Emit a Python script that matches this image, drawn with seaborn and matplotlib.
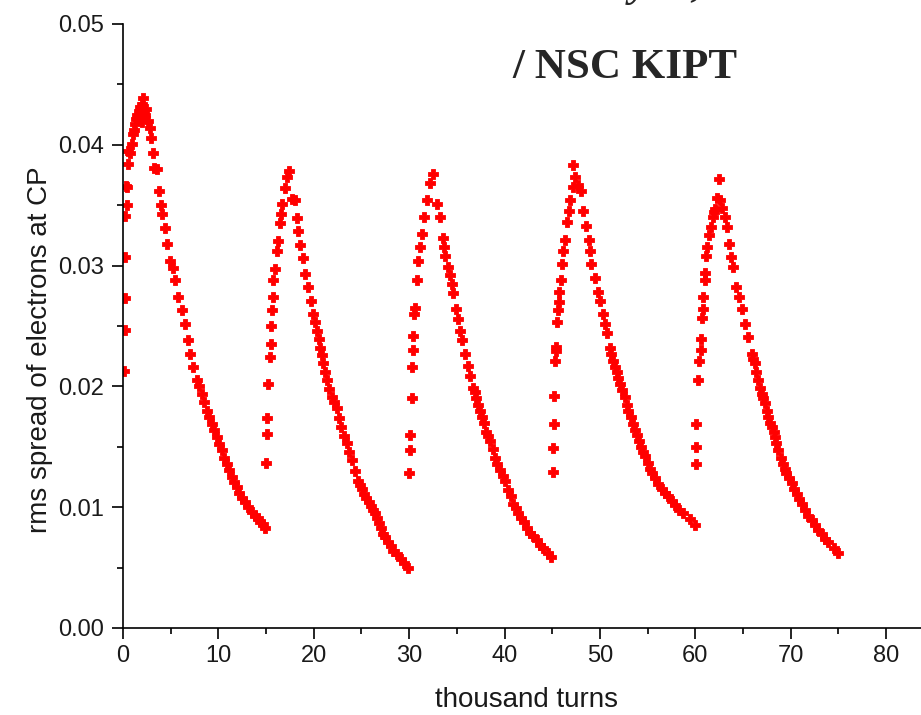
import matplotlib.pyplot as plt
import matplotlib.ticker as mticker
import seaborn as sns
import pandas as pd

cycle1_x = [0.1, 0.18, 0.18, 0.24, 0.24, 0.39, 0.3, 0.45, 0.56, 0.55, 0.73, 0.91,
            1.08, 1.2, 1.26, 1.4, 1.5, 1.7, 1.78, 2.0, 2.13, 2.0, 2.2, 2.3, 2.4,
            2.65, 2.83, 2.9, 3.11, 3.25, 3.53, 3.8, 3.95, 4.06, 4.4, 4.65, 4.93,
            5.2, 5.45, 5.8, 6.15, 6.5, 6.84, 7.02, 7.36, 7.78, 8.0, 8.25, 8.5, 8.77,
            9.05, 9.3, 9.55, 9.82, 10.1, 10.35, 10.6, 10.87, 11.1, 11.4, 11.65,
            11.92, 12.2, 12.44, 12.8, 13.13, 13.5, 13.84, 14.1, 14.4, 14.65, 14.88]
cycle1_y = [0.0213, 0.0247, 0.0273, 0.0307, 0.0341, 0.0350, 0.0366, 0.0365, 0.0384,
            0.0395, 0.0393, 0.0401, 0.0409, 0.0412, 0.0417, 0.0421, 0.0425, 0.0428,
            0.0431, 0.0434, 0.0439, 0.0419, 0.0427, 0.0425, 0.0430, 0.0420, 0.0414,
            0.0406, 0.0393, 0.0381, 0.0380, 0.0362, 0.0350, 0.0343, 0.0331, 0.0318,
            0.0304, 0.0298, 0.0288, 0.0274, 0.0263, 0.0252, 0.0238, 0.0227, 0.0216,
            0.0205, 0.0200, 0.0194, 0.0187, 0.0180, 0.0175, 0.0169, 0.0164, 0.0158,
            0.0152, 0.0147, 0.0141, 0.0136, 0.0131, 0.0125, 0.0121, 0.0117, 0.0112,
            0.0108, 0.0104, 0.0100, 0.0096, 0.0093, 0.0091, 0.0088, 0.0086, 0.0083]

cycle2_x = [15.0, 15.05, 15.05, 15.2, 15.4, 15.5, 15.5, 15.6, 15.7, 15.75, 15.9,
            16.1, 16.25, 16.45, 16.6, 16.7, 17.0, 17.15, 17.4, 17.7, 18.0, 18.2,
            18.35, 18.55, 18.85, 19.1, 19.4, 19.7, 19.9, 20.1, 20.3, 20.5, 20.65,
            20.85, 21.0, 21.2, 21.35, 21.6, 21.9, 22.15, 22.4, 22.65, 22.9, 23.2,
            23.45, 23.7, 24.0, 24.3, 24.6, 24.8, 25.05, 25.3, 25.5, 25.75, 25.95,
            26.2, 26.4, 26.6, 26.85, 27.05, 27.25, 27.5, 27.8, 28.05, 28.3, 28.7,
            29.1, 29.5, 29.9]
cycle2_y = [0.0137, 0.0161, 0.0174, 0.0202, 0.0224, 0.0235, 0.0250, 0.0263, 0.0274,
            0.0288, 0.0297, 0.0312, 0.0320, 0.0335, 0.0343, 0.0351, 0.0364, 0.0373,
            0.0378, 0.0355, 0.0354, 0.0339, 0.0329, 0.0317, 0.0306, 0.0293, 0.0282,
            0.0271, 0.0260, 0.0253, 0.0246, 0.0239, 0.0232, 0.0226, 0.0219, 0.0212,
            0.0205, 0.0198, 0.0191, 0.0187, 0.0182, 0.0174, 0.0166, 0.0159, 0.0153,
            0.0146, 0.0139, 0.0130, 0.0122, 0.0118, 0.0115, 0.0111, 0.0108, 0.0104,
            0.0101, 0.0098, 0.0095, 0.0091, 0.0087, 0.0083, 0.0078, 0.0075, 0.0071,
            0.0068, 0.0064, 0.0061, 0.0057, 0.0054, 0.0050]

cycle3_x = [30.0, 30.1, 30.1, 30.25, 30.3, 30.4, 30.4, 30.5, 30.6, 30.8, 30.95,
            31.1, 31.3, 31.5, 31.85, 32.2, 32.45, 32.9, 33.2, 33.5, 33.6, 33.75,
            34.1, 34.3, 34.45, 34.6, 34.95, 35.15, 35.3, 35.5, 35.85, 36.2, 36.4,
            36.7, 36.9, 37.05, 37.2, 37.4, 37.6, 37.8, 38.1, 38.3, 38.5, 38.75,
            39.0, 39.25, 39.5, 39.8, 40.05, 40.4, 40.65, 40.9, 41.2, 41.45, 41.7,
            42.0, 42.3, 42.65, 43.0, 43.35, 43.7, 44.05, 44.5, 44.9]
cycle3_y = [0.0128, 0.0147, 0.0160, 0.0190, 0.0216, 0.0230, 0.0242, 0.0260, 0.0265,
            0.0288, 0.0304, 0.0315, 0.0326, 0.0340, 0.0354, 0.0368, 0.0376, 0.0351,
            0.0340, 0.0323, 0.0315, 0.0308, 0.0299, 0.0292, 0.0285, 0.0277, 0.0264,
            0.0256, 0.0246, 0.0238, 0.0227, 0.0217, 0.0209, 0.0199, 0.0195, 0.0190,
            0.0185, 0.0180, 0.0175, 0.0170, 0.0162, 0.0159, 0.0155, 0.0148, 0.0141,
            0.0136, 0.0131, 0.0126, 0.0122, 0.0114, 0.0109, 0.0103, 0.0099, 0.0095,
            0.0091, 0.0088, 0.0083, 0.0079, 0.0076, 0.0073, 0.0069, 0.0066, 0.0062,
            0.0059]

cycle4_x = [45.1, 45.1, 45.15, 45.15, 45.3, 45.4, 45.4, 45.5, 45.6, 45.75, 45.75,
            45.9, 46.0, 46.15, 46.35, 46.5, 46.7, 46.9, 47.2, 47.4, 47.2, 47.7,
            48.05, 48.25, 48.5, 48.8, 48.95, 49.1, 49.45, 49.8, 50.05, 50.3, 50.5,
            50.75, 51.05, 51.2, 51.4, 51.6, 51.75, 51.9, 52.1, 52.35, 52.6, 52.8,
            52.95, 53.2, 53.5, 53.7, 53.85, 54.1, 54.35, 54.5, 54.7, 55.0, 55.25,
            55.5, 55.75, 56.1, 56.45, 56.8, 57.15, 57.5, 57.85, 58.3, 58.75, 59.4,
            60.0]
cycle4_y = [0.0129, 0.0149, 0.0169, 0.0192, 0.0221, 0.0229, 0.0233, 0.0253, 0.0263,
            0.0270, 0.0278, 0.0288, 0.0301, 0.0312, 0.0321, 0.0336, 0.0345, 0.0354,
            0.0365, 0.0373, 0.0383, 0.0367, 0.0362, 0.0345, 0.0333, 0.0321, 0.0312,
            0.0301, 0.0290, 0.0278, 0.0271, 0.0260, 0.0252, 0.0244, 0.0232, 0.0227,
            0.0221, 0.0216, 0.0212, 0.0207, 0.0202, 0.0197, 0.0191, 0.0185, 0.0180,
            0.0175, 0.0169, 0.0164, 0.0160, 0.0155, 0.0150, 0.0146, 0.0142, 0.0137,
            0.0132, 0.0128, 0.0124, 0.0119, 0.0115, 0.0112, 0.0109, 0.0105, 0.0102,
            0.0098, 0.0095, 0.0090, 0.0085]

cycle5_x = [60.05, 60.1, 60.1, 60.3, 60.4, 60.55, 60.55, 60.65, 60.75, 60.8, 61.0,
            61.0, 61.1, 61.25, 61.45, 61.6, 61.8, 61.9, 62.05, 62.3, 62.5, 62.6,
            62.75, 63.1, 63.3, 63.55, 63.7, 63.9, 64.3, 64.6, 64.85, 65.2, 65.55,
            65.9, 66.05, 66.25, 66.4, 66.6, 66.8, 66.95, 67.1, 67.3, 67.5, 67.65,
            67.8, 68.0, 68.2, 68.35, 68.5, 68.7, 68.95, 69.2, 69.35, 69.55, 69.8,
            70.1, 70.35, 70.6, 70.9, 71.15, 71.5, 71.85, 72.2, 72.55, 72.9, 73.25,
            73.6, 73.95, 74.5, 75.0]
cycle5_y = [0.0136, 0.0150, 0.0169, 0.0205, 0.0221, 0.0230, 0.0239, 0.0257, 0.0264,
            0.0274, 0.0288, 0.0294, 0.0308, 0.0315, 0.0325, 0.0332, 0.0340, 0.0344,
            0.0347, 0.0356, 0.0372, 0.0354, 0.0348, 0.0340, 0.0332, 0.0318, 0.0307,
            0.0299, 0.0282, 0.0274, 0.0264, 0.0252, 0.0241, 0.0227, 0.0223, 0.0219,
            0.0212, 0.0205, 0.0199, 0.0194, 0.0190, 0.0186, 0.0180, 0.0175, 0.0170,
            0.0166, 0.0162, 0.0158, 0.0153, 0.0147, 0.0141, 0.0136, 0.0132, 0.0128,
            0.0124, 0.0120, 0.0115, 0.0111, 0.0107, 0.0103, 0.0098, 0.0093, 0.0089,
            0.0085, 0.0081, 0.0078, 0.0074, 0.0071, 0.0066, 0.0062]

x_ticks = [0, 10, 20, 30, 40, 50, 60, 70, 80]
y_ticks = [0.00, 0.01, 0.02, 0.03, 0.04, 0.05]

df = pd.DataFrame({
    "turns": cycle1_x + cycle2_x + cycle3_x + cycle4_x + cycle5_x,
    "spread": cycle1_y + cycle2_y + cycle3_y + cycle4_y + cycle5_y,
})

sns.set_theme(style="ticks")
plt.rcParams["font.family"] = ["Liberation Sans", "DejaVu Sans"]

fig = plt.figure(figsize=(9.21, 7.15), dpi=100)
ax = fig.add_axes([123 / 921, 87 / 715, 798 / 921, 604 / 715])

sns.scatterplot(data=df, x="turns", y="spread", marker="P", s=42,
                color="#ff0000", edgecolor="#ff0000", linewidth=0.6,
                ax=ax, legend=False)

ax.set_xlim(0, 83.65)
ax.set_ylim(0, 0.05)
ax.set_xticks(x_ticks)
ax.set_yticks(y_ticks)
ax.yaxis.set_major_formatter(mticker.FormatStrFormatter("%.2f"))
ax.xaxis.set_minor_locator(mticker.MultipleLocator(5))
ax.yaxis.set_minor_locator(mticker.MultipleLocator(0.005))

ax.spines[["top", "right"]].set_visible(False)
ax.spines[["left", "bottom"]].set_linewidth(1.2)
ax.spines[["left", "bottom"]].set_color("black")
ax.tick_params(which="major", length=8, width=1.2, color="black",
               labelsize=17, labelcolor="#1a1a1a", pad=4)
ax.tick_params(which="minor", length=4.5, width=1.2, color="black")
ax.tick_params(axis="y", which="major", pad=6)

ax.set_xlabel("thousand turns", fontsize=20, color="#1a1a1a")
ax.set_ylabel("rms spread of electrons at CP", fontsize=20, color="#1a1a1a")
ax.xaxis.set_label_coords(0.506, -0.097)
ax.yaxis.set_label_coords(-0.088, 0.46)
ax.grid(False)

# Slide heading (top line is cut by the frame, as in the source slide):
fig.text(515 / 921, 1.005, "E. Bulyak, P. Gladkikh", fontsize=31,
         family=["Liberation Serif"], style="italic", weight="bold",
         ha="left", va="baseline")
fig.text(512 / 921, (715 - 78) / 715, "/ NSC KIPT", fontsize=31,
         family=["Liberation Serif"], weight="bold", ha="left", va="baseline")

plt.savefig("out.png", dpi=100)
